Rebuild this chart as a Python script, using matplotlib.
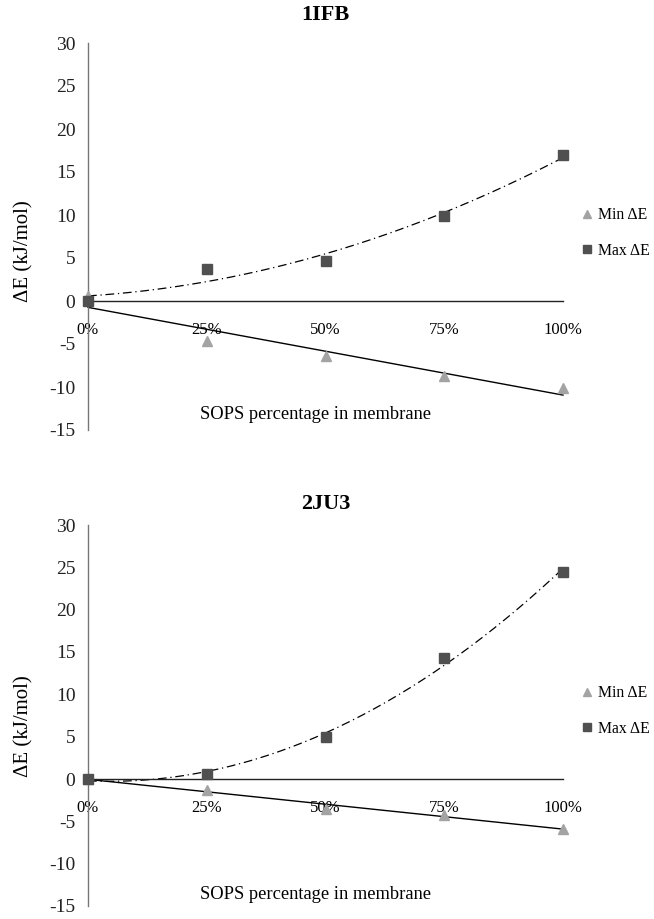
import numpy as np
import matplotlib
matplotlib.use("Agg")
import matplotlib.pyplot as plt
from matplotlib.lines import Line2D

plt.rcParams['font.family'] = ['Liberation Serif', 'DejaVu Serif']
plt.rcParams['axes.unicode_minus'] = False

# SOPS percentage (x) and energies
sops_pct = [0, 25, 50, 75, 100]
tick_labels = ['0%', '25%', '50%', '75%', '100%']

ifb_min = [0.6, -4.6, -6.4, -8.7, -10.1]
ifb_max = [0.0, 3.7, 4.7, 9.9, 17.0]

ju3_min = [0.0, -1.3, -3.5, -4.2, -5.9]
ju3_max = [0.0, 0.6, 5.0, 14.3, 24.5]

MIN_COLOR = '#a3a3a3'
MAX_COLOR = '#505050'

W, H = 654, 919


def fig_box(left_px, top_px, right_px, bottom_px):
    return [left_px / W, 1 - bottom_px / H, (right_px - left_px) / W, (bottom_px - top_px) / H]


def draw_panel(fig, box, title, y_min, y_max, ylab_y, title_y, xlab_y, legend_y):
    ax = fig.add_axes(box)
    x = np.array(sops_pct, dtype=float)

    # trendlines: linear for min, 2nd order polynomial for max
    xs = np.linspace(0, 100, 200)
    lin = np.polyfit(x, y_min, 1)
    quad = np.polyfit(x, y_max, 2)
    ax.plot(xs, np.polyval(lin, xs), color='black', lw=1.0, clip_on=False, zorder=2)
    ax.plot(xs, np.polyval(quad, xs), color='black', lw=0.9, dashes=(7, 3, 1, 3),
            clip_on=False, zorder=2)

    ax.plot(x, y_min, linestyle='none', marker='^', ms=7, color=MIN_COLOR,
            clip_on=False, zorder=3)
    ax.plot(x, y_max, linestyle='none', marker='s', ms=6.5, color=MAX_COLOR,
            clip_on=False, zorder=4)

    ax.set_xlim(0, 100)
    ax.set_ylim(-15, 30)
    ax.set_yticks(range(-15, 31, 5))
    ax.set_xticks(sops_pct)
    ax.set_xticklabels(tick_labels, color='#555555')

    for s in ['top', 'right']:
        ax.spines[s].set_visible(False)
    ax.spines['bottom'].set_position(('data', 0))
    ax.spines['bottom'].set_color('#222222')
    ax.spines['bottom'].set_linewidth(1.0)
    ax.spines['left'].set_color('#777777')
    ax.spines['left'].set_linewidth(1.0)
    ax.tick_params(axis='x', length=0, pad=15, labelsize=12)
    ax.tick_params(axis='y', length=0, pad=9, labelsize=14, labelcolor='#222222')

    ax.set_ylabel('ΔE (kJ/mol)', fontsize=15)
    ax.yaxis.set_label_coords(-0.115, ylab_y)

    ax.text(0.50, title_y, title, transform=ax.transAxes, ha='center', va='center',
            fontsize=16, fontweight='bold')
    ax.text(0.478, xlab_y, 'SOPS percentage in membrane', transform=ax.transAxes,
            ha='center', va='center', fontsize=13.3)

    handles = [
        Line2D([], [], linestyle='none', marker='^', ms=6, color=MIN_COLOR),
        Line2D([], [], linestyle='none', marker='s', ms=5.5, color=MAX_COLOR),
    ]
    fig.legend(handles, ['Min ΔE', 'Max ΔE'], loc='center left',
               bbox_to_anchor=(0.878, legend_y), frameon=False, fontsize=11.3,
               handlelength=0.8, handletextpad=0.3, labelspacing=1.25, borderaxespad=0)
    return ax


fig = plt.figure(figsize=(6.54, 9.19), dpi=100)

draw_panel(fig, fig_box(88, 43, 563, 430), '1IFB', ifb_min, ifb_max,
           ylab_y=0.4625, title_y=1.072, xlab_y=0.039, legend_y=1 - 233 / H)
draw_panel(fig, fig_box(88, 525, 563, 906), '2JU3', ju3_min, ju3_max,
           ylab_y=0.473, title_y=1.055, xlab_y=0.03, legend_y=1 - 711 / H)

fig.savefig('out.png', dpi=100)
